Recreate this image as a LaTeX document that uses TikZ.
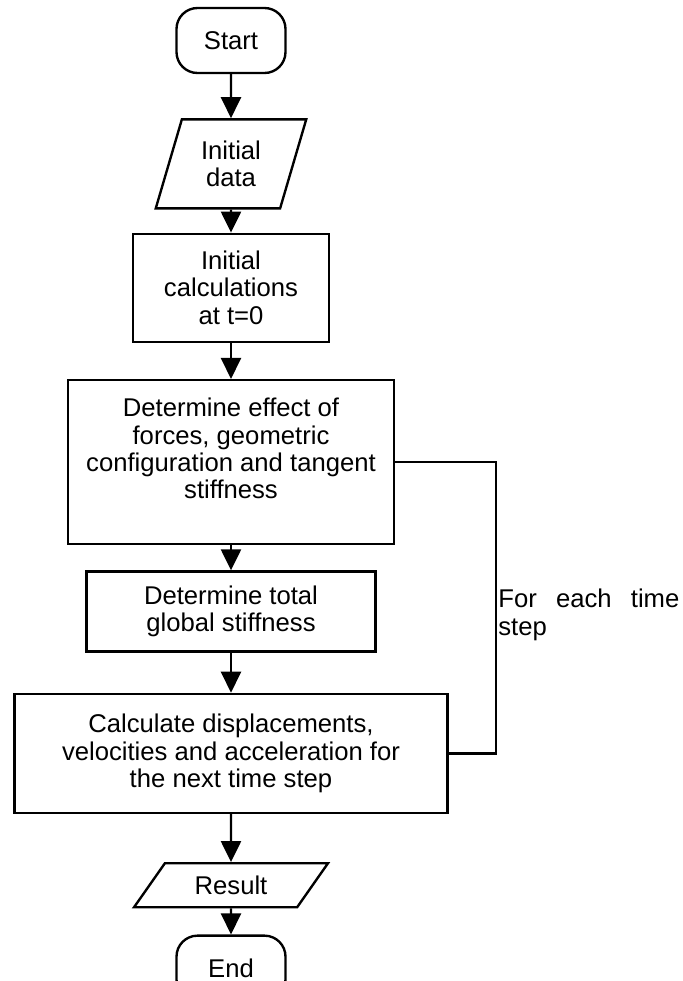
\documentclass[tikz,border=0pt]{standalone}
\usepackage{fontspec}
\setmainfont{Liberation Sans}
\usetikzlibrary{shapes.geometric, arrows.meta, positioning}

\begin{document}
\begin{tikzpicture}[
    every node/.style={font=\fontsize{14.6}{15.6}\selectfont},
    terminal/.style={draw, rounded corners=0.42cm, minimum width=2.18cm, minimum height=1.3cm, line width=1.35pt},
    io/.style={draw, trapezium, trapezium stretches=true, align=center, inner sep=0pt, line width=1.35pt},
    process/.style={draw, align=center, line width=1.35pt},
    flow/.style={-{Triangle[length=0.42cm, width=0.4cm]}, line width=1.35pt}
]
    \clip (0,0) rectangle (13.64,-19.62);

    \node[terminal] (start) at (4.62,-0.81) {Start};
    \node[io, trapezium left angle=71, trapezium right angle=109, minimum width=3.02cm, minimum height=1.78cm, below=0.88cm of start] (data) {Initial\\data};
    \node[process, minimum width=3.92cm, minimum height=2.16cm, below=0.46cm of data] (init) {Initial\\calculations\\at t=0};
    \node[process, minimum width=6.52cm, minimum height=3.28cm, below=0.72cm of init] (effect) {Determine effect of\\forces, geometric\\configuration and tangent\\stiffness\\\mbox{}};
    \node[process, minimum width=5.78cm, minimum height=1.6cm, below=0.5cm of effect] (total) {Determine total\\global stiffness};
    \node[process, minimum width=8.66cm, minimum height=2.38cm, below=0.8cm of total] (calc) {Calculate displacements,\\velocities and acceleration for\\the next time step};
    \node[io, trapezium left angle=48, trapezium right angle=132, minimum width=3.9cm, minimum height=0.88cm, below=0.96cm of calc] (result) {Result};
    \node[terminal, below=0.52cm of result] (end) {End};

    \draw[flow] (start) -- (data);
    \draw[flow] (data) -- (init);
    \draw[flow] (init) -- (effect);
    \draw[flow] (effect) -- (total);
    \draw[flow] (total) -- (calc);
    \draw[flow] (calc) -- (result);
    \draw[flow] (result) -- (end);

    % loop back for the time steps
    \coordinate[right=2.02cm of effect.east] (loop);
    \draw[line width=1.35pt] (effect.east) -- (loop) |- (calc.east);
    \node[anchor=north west, inner sep=0pt, text width=3.62cm, align=justify] (each) at (9.96,-11.78) {For each time step};
\end{tikzpicture}
\end{document}
